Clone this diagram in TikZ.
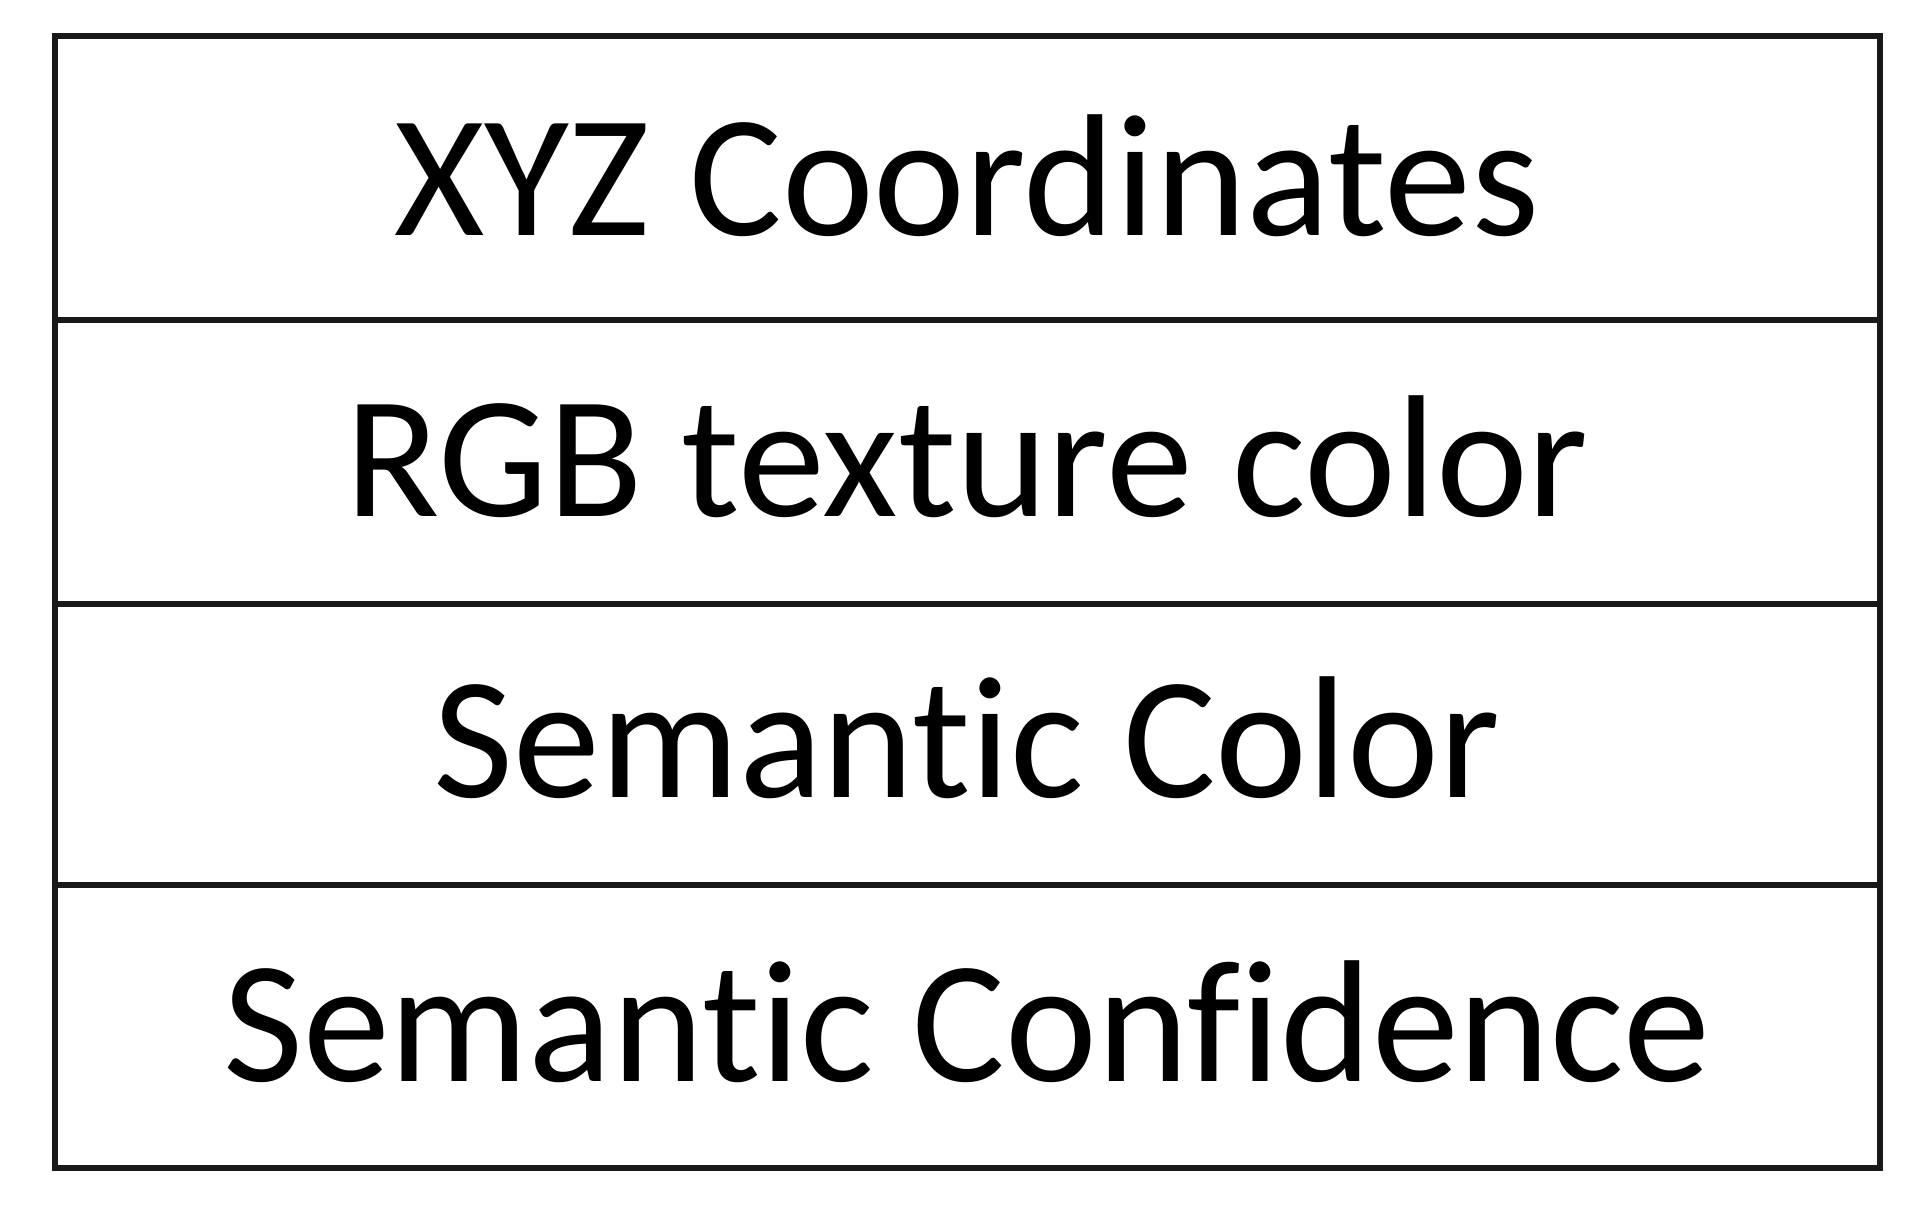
\documentclass[tikz,border=0pt]{standalone}
\usepackage{fontspec}
\setmainfont{Carlito}[RawFeature={-liga;-dlig;-clig}]
\begin{document}
\begin{tikzpicture}[x=1pt,y=-1pt,
  frame/.style={draw=black!90,line width=6pt},
  rowtext/.style={anchor=base,inner sep=0pt,font=\fontsize{174}{200}\selectfont}]
\useasboundingbox (0,0) rectangle (1931,1206);
\draw[frame] (55,36) rectangle (1880,1168);
\draw[frame] (55,320) -- (1880,320);
\draw[frame] (55,604) -- (1880,604);
\draw[frame] (55,885) -- (1880,885);
\node[rowtext] (xyz) at (967,236) {XYZ Coordinates};
\node[rowtext] (rgb) at (967,516) {RGB texture color};
\node[rowtext] (sem) at (967,797) {Semantic Color};
\node[rowtext] (conf) at (967,1081) {Semantic Confidence};
\end{tikzpicture}
\end{document}
